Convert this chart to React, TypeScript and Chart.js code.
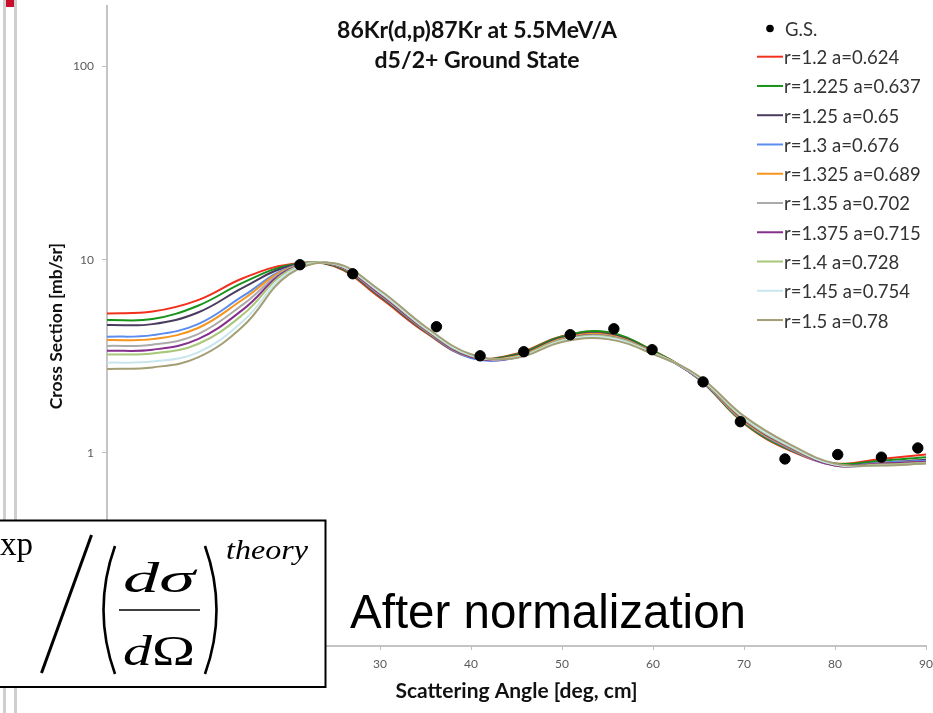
import { useEffect, useRef } from "react";
import { Chart, registerables } from "chart.js";

Chart.register(...registerables);

// Scattering angles (deg, cm) at which the DWBA curves are tabulated
const angles = [0, 5, 10, 15, 20, 25, 30, 35, 40, 45, 50, 55, 60, 65, 70, 75, 80, 85, 90];

// Calculated cross sections (mb/sr) for each optical-potential geometry
const r1200 = [5.27, 5.39, 6.18, 8.04, 9.45, 9.25, 6.35, 4.2, 3.12, 3.26, 4.02, 4.18, 3.38, 2.42, 1.42, 1.03, 0.88, 0.93, 0.98];
const r1225 = [4.87, 4.93, 5.78, 7.63, 9.35, 9.3, 6.45, 4.24, 3.12, 3.24, 4.0, 4.22, 3.38, 2.42, 1.43, 1.04, 0.88, 0.91, 0.95];
const r1250 = [4.59, 4.64, 5.33, 7.19, 9.25, 9.35, 6.5, 4.26, 3.12, 3.2, 3.94, 4.12, 3.34, 2.43, 1.45, 1.05, 0.87, 0.89, 0.92];
const r1300 = [3.99, 4.07, 4.64, 6.51, 9.1, 9.4, 6.55, 4.28, 3.1, 3.12, 3.86, 4.02, 3.3, 2.43, 1.45, 1.05, 0.86, 0.89, 0.91];
const r1325 = [3.84, 3.88, 4.43, 6.26, 9.05, 9.42, 6.6, 4.3, 3.14, 3.16, 3.9, 4.08, 3.32, 2.44, 1.46, 1.06, 0.86, 0.88, 0.9];
const r1350 = [3.58, 3.63, 4.12, 5.89, 9.0, 9.45, 6.65, 4.34, 3.16, 3.14, 3.86, 4.04, 3.3, 2.45, 1.48, 1.07, 0.86, 0.87, 0.89];
const r1375 = [3.38, 3.42, 3.88, 5.55, 8.9, 9.45, 6.65, 4.34, 3.14, 3.12, 3.84, 4.02, 3.3, 2.45, 1.48, 1.07, 0.86, 0.88, 0.9];
const r1400 = [3.23, 3.27, 3.66, 5.23, 8.8, 9.5, 6.75, 4.38, 3.18, 3.14, 3.84, 4.0, 3.3, 2.46, 1.5, 1.08, 0.87, 0.87, 0.89];
const r1450 = [2.93, 2.97, 3.31, 4.83, 8.6, 9.52, 6.8, 4.42, 3.2, 3.12, 3.8, 3.95, 3.28, 2.48, 1.52, 1.09, 0.87, 0.86, 0.88];
const r1500 = [2.72, 2.77, 3.12, 4.55, 8.4, 9.58, 6.95, 4.5, 3.24, 3.1, 3.75, 3.88, 3.25, 2.5, 1.55, 1.11, 0.88, 0.86, 0.88];

const seriesValues = [r1200, r1225, r1250, r1300, r1325, r1350, r1375, r1400, r1450, r1500];
const seriesLabels = [
  "r=1.2 a=0.624",
  "r=1.225 a=0.637",
  "r=1.25 a=0.65",
  "r=1.3 a=0.676",
  "r=1.325 a=0.689",
  "r=1.35 a=0.702",
  "r=1.375 a=0.715",
  "r=1.4 a=0.728",
  "r=1.45 a=0.754",
  "r=1.5 a=0.78",
];
const seriesColors = [
  "#F2301E",
  "#18931A",
  "#4A3C5E",
  "#5B8DEF",
  "#F7941D",
  "#ABABAB",
  "#86308E",
  "#A9C778",
  "#C8E6EE",
  "#A39E73",
];

// Measured ground-state angular distribution
const gsLabel = "G.S.";
const gsAngles = [21.2, 27.0, 36.2, 41.0, 45.8, 50.9, 55.7, 59.9, 65.5, 69.6, 74.5, 80.3, 85.1, 89.1];
const gsValues = [9.42, 8.46, 4.5, 3.18, 3.34, 4.09, 4.39, 3.42, 2.33, 1.45, 0.93, 0.98, 0.95, 1.06];

const yTickValues = [0.1, 1, 10, 100];
const titleLines = ["86Kr(d,p)87Kr at 5.5MeV/A", "d5/2+ Ground State"];

const UI_FONT = "Lato, 'Open Sans', sans-serif";

// Two-line heading drawn over the plot area
const headingPlugin = {
  id: "heading",
  afterDraw(chart: any) {
    const ctx = chart.ctx;
    ctx.save();
    ctx.fillStyle = "#111";
    ctx.textAlign = "center";
    ctx.textBaseline = "middle";
    ctx.font = `bold 23px ${UI_FONT}`;
    titleLines.forEach((line, i) => ctx.fillText(line, 477, 31 + i * 30));
    ctx.restore();
  },
};

// Legend listed down the right-hand side, inside the plot
const sideLegendPlugin = {
  id: "sideLegend",
  afterDraw(chart: any) {
    const ctx = chart.ctx;
    ctx.save();
    ctx.font = `18.5px ${UI_FONT}`;
    ctx.fillStyle = "#333";
    ctx.textBaseline = "middle";
    ctx.textAlign = "left";
    chart.data.datasets.forEach((ds: any, i: number) => {
      if (i === 0) {
        ctx.beginPath();
        ctx.arc(770, 28.5, 3.8, 0, Math.PI * 2);
        ctx.fillStyle = "#000";
        ctx.fill();
        ctx.fillStyle = "#333";
        ctx.fillText(ds.label, 785, 30);
        return;
      }
      const y = 56.7 + (i - 1) * 29.26;
      ctx.beginPath();
      ctx.moveTo(757, y);
      ctx.lineTo(783, y);
      ctx.strokeStyle = ds.borderColor;
      ctx.lineWidth = 2;
      ctx.stroke();
      ctx.fillText(ds.label, 784, y + 1.5);
    });
    ctx.restore();
  },
};

function CrossSectionChart() {
  const canvasRef = useRef<HTMLCanvasElement | null>(null);

  useEffect(() => {
    const canvas = canvasRef.current;
    if (!canvas) return;

    const gsData = gsAngles.map((a, i) => ({ x: a, y: gsValues[i] }));
    const curveSets = seriesValues.map((vals, i) => ({
      label: seriesLabels[i],
      data: angles.map((a, j) => ({ x: a, y: vals[j] })),
      borderColor: seriesColors[i],
      backgroundColor: seriesColors[i],
      borderWidth: 2,
      pointRadius: 0,
      tension: 0.4,
      fill: false,
      order: seriesValues.length - i,
    }));

    const chart = new Chart(canvas, {
      type: "line",
      data: {
        datasets: [
          {
            label: gsLabel,
            data: gsData,
            showLine: false,
            pointRadius: 5.2,
            pointBackgroundColor: "#000",
            pointBorderColor: "#000",
            borderColor: "#000",
            backgroundColor: "#000",
            order: 0,
          },
          ...curveSets,
        ],
      },
      options: {
        animation: false,
        responsive: false,
        maintainAspectRatio: false,
        layout: { padding: { left: 0, top: 5, right: 7, bottom: 0 } },
        plugins: {
          legend: { display: false },
          tooltip: { enabled: false },
          title: { display: false },
        },
        scales: {
          x: {
            type: "linear",
            min: 0,
            max: 90,
            bounds: "data",
            ticks: {
              stepSize: 10,
              color: "#5a5a5a",
              font: { family: UI_FONT, size: 12 },
              padding: 7,
            },
            grid: { drawOnChartArea: false, drawTicks: true, tickLength: 4, color: "#bdbdbd" },
            border: { display: true, color: "#c4c4c4", width: 2 },
            title: {
              display: true,
              text: "Scattering Angle [deg, cm]",
              color: "#111",
              font: { family: UI_FONT, size: 21, weight: "bold" },
              padding: { top: 0, bottom: 9 },
            },
            afterFit: (scale: any) => {
              scale.height = 67;
              scale.paddingLeft = 0;
              scale.paddingRight = 0;
            },
          },
          y: {
            type: "logarithmic",
            min: 0.1,
            max: 205.4,
            bounds: "data",
            afterBuildTicks: (scale: any) => {
              scale.ticks = yTickValues.map((v) => ({ value: v }));
            },
            ticks: {
              color: "#5a5a5a",
              font: { family: UI_FONT, size: 12 },
              padding: 8,
              callback: (v: any) => String(v),
            },
            grid: { drawOnChartArea: false, drawTicks: true, tickLength: 5, color: "#bdbdbd" },
            border: { display: true, color: "#c4c4c4", width: 2 },
            title: {
              display: true,
              text: "Cross Section [mb/sr]",
              color: "#111",
              font: { family: UI_FONT, size: 17.5, weight: "bold" },
              padding: { top: 46, bottom: 0 },
            },
            afterFit: (scale: any) => {
              scale.width = 107;
              scale.paddingTop = 0;
              scale.paddingBottom = 0;
            },
          },
        },
      },
      plugins: [headingPlugin, sideLegendPlugin],
    } as any);

    return () => chart.destroy();
  }, []);

  return (
    <canvas
      ref={canvasRef}
      width={933}
      height={713}
      style={{ position: "absolute", left: 0, top: 0, width: 933, height: 713 }}
    />
  );
}

// Ratio formula panel and annotation laid over the lower-left of the chart
function Annotations() {
  const serif = "'Liberation Serif', 'DejaVu Serif', serif";
  return (
    <svg
      width={933}
      height={713}
      style={{ position: "absolute", left: 0, top: 0, pointerEvents: "none" }}
    >
      <rect x={-5} y={520.5} width={330.5} height={166.5} fill="#fff" stroke="#000" strokeWidth={2} />
      <text x={0} y={555} fontFamily={serif} fontSize={33} fill="#000">xp</text>
      <line x1={41.5} y1={673} x2={91.5} y2={535} stroke="#000" strokeWidth={3} />
      <path d="M115,546 Q92,610 115,674" fill="none" stroke="#000" strokeWidth={2.6} />
      <path d="M205,546 Q228,610 205,674" fill="none" stroke="#000" strokeWidth={2.6} />
      <text x={123} y={592} fontFamily={serif} fontStyle="italic" fontSize={42} fill="#000" textLength={72} lengthAdjust="spacingAndGlyphs">dσ</text>
      <line x1={119} y1={610} x2={200} y2={610} stroke="#000" strokeWidth={1.5} />
      <text x={123} y={665} fontFamily={serif} fontSize={42} fill="#000" textLength={72} lengthAdjust="spacingAndGlyphs">
        <tspan fontStyle="italic">d</tspan>
        <tspan>Ω</tspan>
      </text>
      <text x={226} y={559} fontFamily={serif} fontStyle="italic" fontSize={28} fill="#000" textLength={82} lengthAdjust="spacingAndGlyphs">theory</text>
      <text x={350} y={628} fontFamily="'Liberation Sans', Arial, sans-serif" fontSize={47.5} fill="#000">After normalization</text>
    </svg>
  );
}

export default function App() {
  return (
    <div
      style={{
        position: "absolute",
        left: 0,
        top: 0,
        width: 933,
        height: 713,
        overflow: "hidden",
        background: "#fff",
      }}
    >
      {/* window frame edges along the left side */}
      <div style={{ position: "absolute", left: 3, top: 0, width: 2.5, height: 713, background: "#cfcfcf" }} />
      <div style={{ position: "absolute", left: 14, top: 0, width: 2.5, height: 713, background: "#cfcfcf" }} />
      <div style={{ position: "absolute", left: 6, top: 0, width: 8, height: 7, background: "#C8102E" }} />
      <CrossSectionChart />
      <Annotations />
    </div>
  );
}
